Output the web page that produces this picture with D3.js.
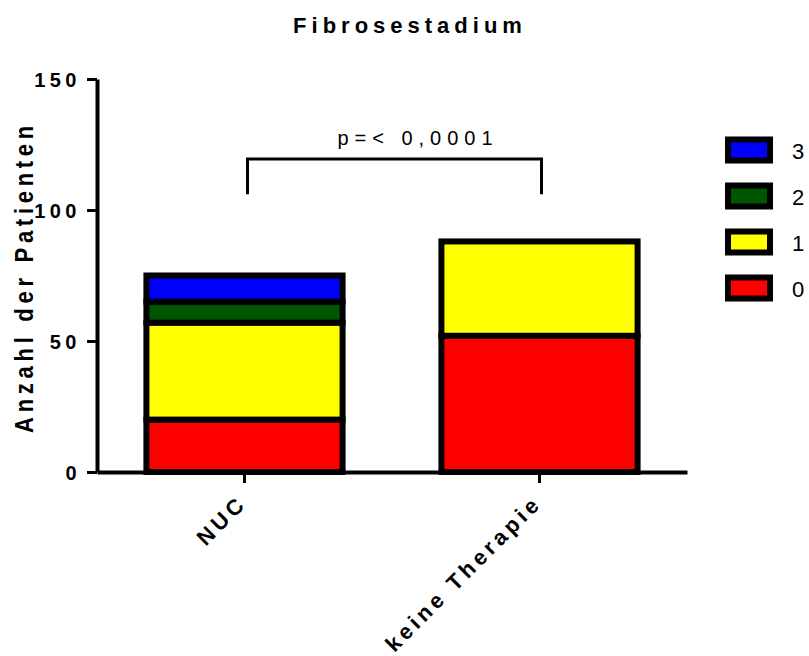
<!DOCTYPE html>
<html>
<head>
<meta charset="utf-8">
<script src="https://cdn.jsdelivr.net/npm/d3@7/dist/d3.min.js"></script>
<style>
  html, body { margin: 0; padding: 0; background: #fff; }
  svg { display: block; }
  text { font-family: "Liberation Sans", Arial, sans-serif; fill: #000; }
</style>
</head>
<body>
<script>
// Patients per fibrosis stage, stacked by therapy group
const categories = ["NUC", "keine Therapie"];
const stages = ["0", "1", "2", "3"];
const stage0 = [20, 52];
const stage1 = [37, 36];
const stage2 = [8, 0];
const stage3 = [10, 0];
const stageColors = ["#ff0000", "#ffff00", "#005500", "#0000ff"];
const yTicks = [0, 50, 100, 150];
const pLabel = "p=< 0,0001";

const W = 809, H = 656;
const svg = d3.select("body").append("svg").attr("width", W).attr("height", H);

const x = d3.scaleBand().domain(categories).range([97, 687]).paddingInner(0.335).paddingOuter(0.1675);
const y = d3.scaleLinear().domain([0, 150]).range([472, 79]);

// stacked table built from the per-stage arrays
const table = categories.map((c, i) => ({
  cat: c, "0": stage0[i], "1": stage1[i], "2": stage2[i], "3": stage3[i]
}));
const series = d3.stack().keys(stages)(table);

const g = svg.append("g");
series.forEach((s, si) => {
  g.selectAll(null).data(s.filter(d => d[1] - d[0] > 0)).enter().append("rect")
    .attr("x", d => x(d.data.cat))
    .attr("width", x.bandwidth())
    .attr("y", d => y(d[1]))
    .attr("height", d => y(d[0]) - y(d[1]))
    .attr("fill", stageColors[si])
    .attr("stroke", "#000")
    .attr("stroke-width", 6);
});

// y axis
const yAxis = svg.append("g").attr("transform", "translate(97,0)")
  .call(d3.axisLeft(y).tickValues(yTicks).tickSize(10).tickSizeOuter(0));
yAxis.select(".domain").attr("stroke", "#000").attr("stroke-width", 4);
yAxis.selectAll(".tick line").attr("stroke", "#000").attr("stroke-width", 3);
yAxis.selectAll(".tick text")
  .attr("x", -16).attr("dy", "0.36em")
  .style("font-size", "20px").style("font-weight", "bold").style("letter-spacing", "4.5px");

// x axis
const xAxis = svg.append("g").attr("transform", "translate(0,472)")
  .call(d3.axisBottom(x).tickSize(11).tickSizeOuter(0));
xAxis.select(".domain").attr("stroke", "#000").attr("stroke-width", 4);
xAxis.selectAll(".tick line").attr("stroke", "#000").attr("stroke-width", 3);
xAxis.selectAll(".tick text")
  .attr("text-anchor", "end")
  .attr("transform", "translate(-2,27) rotate(-45)")
  .attr("x", 0).attr("y", 0).attr("dy", "0.35em")
  .style("font-size", "22px").style("font-weight", "bold").style("letter-spacing", "4px");

// title
svg.append("text").attr("x", 410).attr("y", 33).attr("text-anchor", "middle")
  .style("font-size", "22px").style("font-weight", "bold").style("letter-spacing", "5px")
  .text("Fibrosestadium");

// y axis title, slightly condensed along its reading direction
svg.append("text").attr("transform", "translate(33,277) rotate(-90) scale(0.85,1)")
  .attr("text-anchor", "middle")
  .style("font-size", "26px").style("font-weight", "bold").style("letter-spacing", "5.5px")
  .text("Anzahl der Patienten");

// significance bracket
const bTop = y(119.5), bBot = y(106);
const bx0 = x("NUC") + x.bandwidth() / 2 + 3;
const bx1 = x("keine Therapie") + x.bandwidth() / 2 + 2;
svg.append("path")
  .attr("d", `M${bx0},${bBot}V${bTop}H${bx1}V${bBot}`)
  .attr("fill", "none").attr("stroke", "#000").attr("stroke-width", 3);
svg.append("text").attr("x", 418).attr("y", 145).attr("text-anchor", "middle")
  .style("font-size", "20px").style("letter-spacing", "6px")
  .text(pLabel);

// legend, top entry is the highest stage
const legend = svg.append("g");
stages.slice().reverse().forEach((s, i) => {
  const ci = stages.indexOf(s);
  const cy = 150 + i * 46;
  legend.append("rect").attr("x", 728).attr("y", cy - 10.5).attr("width", 42).attr("height", 21)
    .attr("fill", stageColors[ci]).attr("stroke", "#000").attr("stroke-width", 6);
  legend.append("text").attr("x", 792).attr("y", cy + 1).attr("dy", "0.36em")
    .style("font-size", "22px").text(s);
});
</script>
</body>
</html>
